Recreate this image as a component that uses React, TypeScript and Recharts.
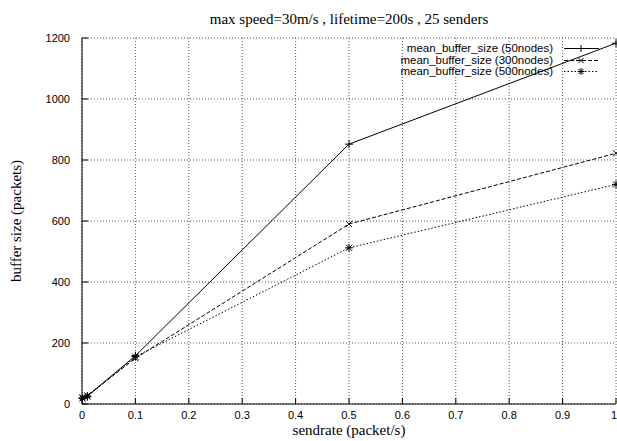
import { LineChart, Line, XAxis, YAxis, CartesianGrid } from 'recharts';

const sendRates = [0.001, 0.01, 0.1, 0.5, 1];
const nodes50 = [20, 26, 158, 852, 1183];
const nodes300 = [22, 28, 150, 590, 822];
const nodes500 = [18, 24, 155, 512, 720];

const xTicks = [0, 0.1, 0.2, 0.3, 0.4, 0.5, 0.6, 0.7, 0.8, 0.9, 1];
const yTicks = [0, 200, 400, 600, 800, 1000, 1200];

const seriesNames = [
  'mean_buffer_size (50nodes)',
  'mean_buffer_size (300nodes)',
  'mean_buffer_size (500nodes)',
];

const data = sendRates.map((x, i) => ({
  x,
  a: nodes50[i],
  b: nodes300[i],
  c: nodes500[i],
}));

const SANS = '"Liberation Sans", Arial, sans-serif';
const SERIF = '"Liberation Serif", "Times New Roman", serif';

type Kind = 'plus' | 'cross' | 'star';

function markerPaths(kind: Kind, cx: number, cy: number, r = 4) {
  const plus = `M${cx - r},${cy}H${cx + r}M${cx},${cy - r}V${cy + r}`;
  const d = r * 0.75;
  const cross = `M${cx - d},${cy - d}L${cx + d},${cy + d}M${cx - d},${cy + d}L${cx + d},${cy - d}`;
  if (kind === 'plus') return plus;
  if (kind === 'cross') return cross;
  return plus + cross;
}

const makeDot = (kind: Kind) => (props: any) => {
  const { cx, cy, index } = props;
  if (cx == null || cy == null) return <g key={index} />;
  return <path key={index} d={markerPaths(kind, cx, cy)} stroke="#000" strokeWidth={1} fill="none" />;
};

const LeftTick = (props: any) => {
  const { x, y, payload } = props;
  return (
    <g>
      <line x1={x} y1={y} x2={x + 6} y2={y} stroke="#000" />
      <text x={x - 12} y={y + 4} textAnchor="end" fontFamily={SANS} fontSize={11} fill="#000">
        {payload.value}
      </text>
    </g>
  );
};

const RightTick = (props: any) => {
  const { x, y } = props;
  return <line x1={x} y1={y} x2={x - 6} y2={y} stroke="#000" />;
};

const BottomTick = (props: any) => {
  const { x, y, payload } = props;
  // last label sits on the right border, keep it inside the picture
  const last = payload.value === xTicks[xTicks.length - 1];
  return (
    <g>
      <line x1={x} y1={y} x2={x} y2={y - 6} stroke="#000" />
      <text x={last ? x + 1 : x} y={y + 15} textAnchor={last ? 'end' : 'middle'} fontFamily={SANS} fontSize={11} fill="#000">
        {payload.value}
      </text>
    </g>
  );
};

const TopTick = (props: any) => {
  const { x, y } = props;
  return <line x1={x} y1={y} x2={x} y2={y + 6} stroke="#000" />;
};

const legendStyles: { kind: Kind; dash?: string }[] = [
  { kind: 'plus' },
  { kind: 'cross', dash: '4 2' },
  { kind: 'star', dash: '1.5 2' },
];

export default function App() {
  return (
    <div style={{ position: 'fixed', left: 0, top: 0, width: 617, height: 441, background: '#fff' }}>
      <LineChart width={617} height={441} data={data} margin={{ top: 38, right: 1, bottom: 7, left: 22 }}>
        <CartesianGrid stroke="#555" strokeDasharray="1 2" horizontalValues={yTicks} verticalValues={xTicks} />
        <XAxis
          dataKey="x"
          type="number"
          domain={[0, 1]}
          ticks={xTicks}
          interval={0}
          height={30}
          tickSize={0}
          tickMargin={0}
          tickLine={false}
          axisLine={{ stroke: '#000' }}
          tick={<BottomTick />}
        />
        <XAxis
          xAxisId="top"
          orientation="top"
          dataKey="x"
          type="number"
          domain={[0, 1]}
          ticks={xTicks}
          interval={0}
          height={0}
          tickSize={0}
          tickMargin={0}
          tickLine={false}
          axisLine={{ stroke: '#000' }}
          tick={<TopTick />}
        />
        <YAxis
          type="number"
          domain={[0, 1200]}
          ticks={yTicks}
          interval={0}
          width={60}
          tickSize={0}
          tickMargin={0}
          tickLine={false}
          axisLine={{ stroke: '#000' }}
          tick={<LeftTick />}
        />
        <YAxis
          yAxisId="right"
          orientation="right"
          type="number"
          domain={[0, 1200]}
          ticks={yTicks}
          interval={0}
          width={0}
          tickSize={0}
          tickMargin={0}
          tickLine={false}
          axisLine={{ stroke: '#000' }}
          tick={<RightTick />}
        />
        <Line dataKey="a" name={seriesNames[0]} stroke="#000" strokeWidth={1} dot={makeDot('plus')} activeDot={false} isAnimationActive={false} />
        <Line dataKey="b" name={seriesNames[1]} stroke="#000" strokeWidth={1} strokeDasharray="4 2" dot={makeDot('cross')} activeDot={false} isAnimationActive={false} />
        <Line dataKey="c" name={seriesNames[2]} stroke="#000" strokeWidth={1} strokeDasharray="1.5 2" dot={makeDot('star')} activeDot={false} isAnimationActive={false} />
      </LineChart>

      {/* title and axis labels */}
      <div style={{ position: 'absolute', left: 82, width: 534, top: 10, textAlign: 'center', fontFamily: SERIF, fontSize: 15, color: '#000', lineHeight: '18px' }}>
        max speed=30m/s , lifetime=200s , 25 senders
      </div>
      <div style={{ position: 'absolute', left: 82, width: 534, top: 421, textAlign: 'center', fontFamily: SERIF, fontSize: 15, color: '#000', lineHeight: '18px' }}>
        sendrate (packet/s)
      </div>
      <div
        style={{
          position: 'absolute',
          left: 16,
          top: 221,
          transform: 'translate(-50%, -50%) rotate(-90deg)',
          whiteSpace: 'nowrap',
          fontFamily: SERIF,
          fontSize: 15,
          color: '#000',
          lineHeight: '18px',
        }}
      >
        buffer size (packets)
      </div>

      {/* key, gnuplot style */}
      <div style={{ position: 'absolute', right: 14, top: 43, fontFamily: SANS, fontSize: 11.5, color: '#000' }}>
        {seriesNames.map((name, i) => (
          <div key={name} style={{ display: 'flex', alignItems: 'center', justifyContent: 'flex-end', height: 11.5 }}>
            <span style={{ whiteSpace: 'nowrap', lineHeight: '11px' }}>{name}</span>
            <svg width={42} height={11} style={{ marginLeft: 8 }}>
              <line x1={3} y1={5.5} x2={38} y2={5.5} stroke="#000" strokeDasharray={legendStyles[i].dash} />
              <path d={markerPaths(legendStyles[i].kind, 20, 5.5, 3.5)} stroke="#000" fill="none" />
            </svg>
          </div>
        ))}
      </div>
    </div>
  );
}
